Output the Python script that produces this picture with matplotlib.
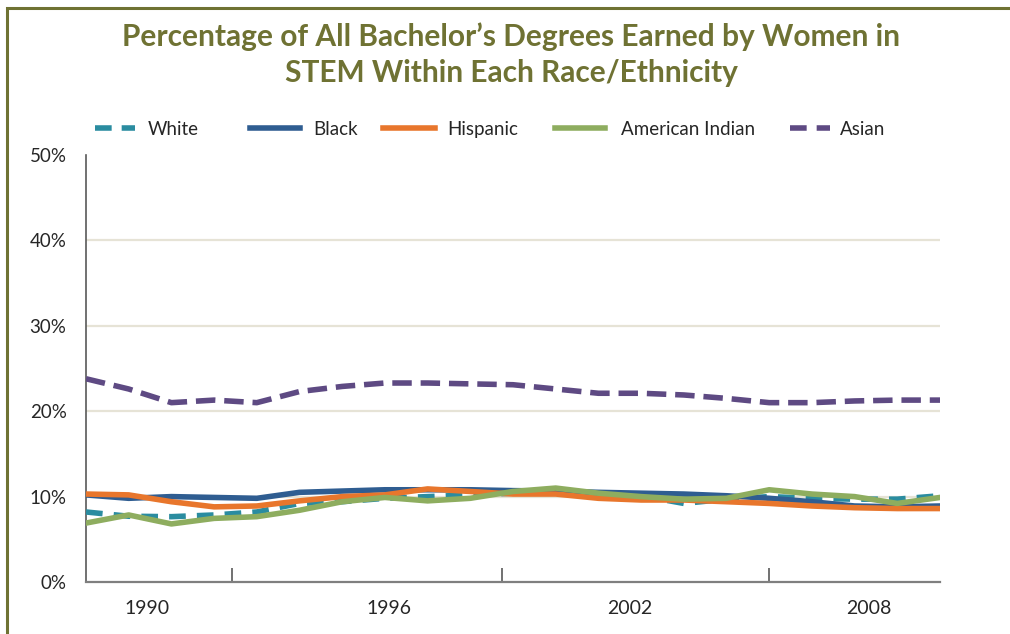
import numpy as np
import matplotlib
matplotlib.use('Agg')
import matplotlib.pyplot as plt
from matplotlib.patches import Rectangle
from matplotlib.lines import Line2D

years = np.arange(1989, 2010)

white = [8.2, 7.7, 7.65, 7.85, 8.2, 9.2, 9.4, 9.8, 10.0, 10.2, 10.4, 10.5, 10.3, 10.1,
         9.2, 9.7, 10.0, 9.8, 9.7, 9.7, 10.1]
black = [10.2, 9.8, 10.0, 9.9, 9.8, 10.5, 10.65, 10.8, 10.8, 10.8, 10.7, 10.65, 10.5, 10.4,
         10.3, 10.1, 9.8, 9.4, 8.9, 8.8, 8.9]
hispanic = [10.3, 10.2, 9.4, 8.8, 8.9, 9.5, 10.0, 10.2, 10.9, 10.6, 10.3, 10.3, 9.8, 9.6,
            9.6, 9.4, 9.2, 8.9, 8.7, 8.6, 8.6]
am_indian = [6.9, 7.85, 6.8, 7.45, 7.65, 8.4, 9.4, 9.9, 9.5, 9.8, 10.6, 11.0, 10.4, 10.0,
             9.7, 9.8, 10.8, 10.3, 10.0, 9.2, 9.9]
asian = [23.8, 22.6, 21.0, 21.3, 21.0, 22.3, 22.9, 23.3, 23.3, 23.2, 23.1, 22.6, 22.1, 22.1,
         21.9, 21.5, 21.0, 21.0, 21.2, 21.3, 21.3]

year_labels = ['1990', '1996', '2002', '2008']
label_pos = [1990.43, 1996.1, 2001.74, 2007.34]
tick_pos = [1992.42, 1998.74, 2004.99]

c_white = '#2A8CA0'
c_black = '#2F5D91'
c_hisp = '#E8762C'
c_amind = '#8EAD5F'
c_asian = '#5E4A83'
olive = '#6F7233'
txt = '#262626'

plt.rcParams['font.family'] = ['Lato', 'DejaVu Sans']

W, H = 1010, 634
fig = plt.figure(figsize=(W / 100, H / 100), dpi=100)
ax = fig.add_axes([86 / W, 1 - 582 / H, (940 - 86) / W, (582 - 155) / H])

lw = 4.0
lines = []
lines += ax.plot(years, white, color=c_white, lw=lw, dashes=(3.0, 2.0), label='White', zorder=3)
lines += ax.plot(years, black, color=c_black, lw=lw, label='Black', zorder=3)
lines += ax.plot(years, hispanic, color=c_hisp, lw=lw, label='Hispanic', zorder=4)
lines += ax.plot(years, am_indian, color=c_amind, lw=lw, label='American Indian', zorder=5)
lines += ax.plot(years, asian, color=c_asian, lw=lw, dashes=(3.5, 1.6), label='Asian', zorder=3)

ax.set_xlim(1989, 2009)
ax.set_ylim(0, 50)
ax.set_yticks([0, 10, 20, 30, 40, 50])
ax.set_yticklabels(['0%', '10%', '20%', '30%', '40%', '50%'])
for y in [10, 20, 30, 40]:
    ax.axhline(y, color='#E6E3D6', lw=1.6, zorder=1)

ax.set_xticks(label_pos)
ax.set_xticklabels(year_labels)
ax.set_xticks(tick_pos, minor=True)
ax.tick_params(axis='x', which='major', length=0, pad=13, labelsize=14, labelcolor=txt)
ax.tick_params(axis='x', which='minor', direction='in', length=10, width=1.2, color='#595959')
ax.tick_params(axis='y', length=0, pad=14, labelsize=13.5, labelcolor=txt)

for s in ['top', 'right']:
    ax.spines[s].set_visible(False)
ax.spines['left'].set_color('#595959')
ax.spines['bottom'].set_color('#7F7F7F')
ax.spines['bottom'].set_linewidth(1.6)
ax.spines['left'].set_linewidth(1.2)

fig.text(0.506, 1 - 37 / H, 'Percentage of All Bachelor\u2019s Degrees Earned by Women in',
         ha='center', va='center', fontsize=21.5, fontweight='bold', color=olive)
fig.text(0.506, 1 - 73 / H, 'STEM Within Each Race/Ethnicity',
         ha='center', va='center', fontsize=21.5, fontweight='bold', color=olive)

# legend entries placed as in the original layout
leg_x = [(95, 135, 148), (250, 300, 313), (383, 435, 447), (555, 605, 621), (790, 830, 840)]
ly = 1 - 128 / H
for ln, (x0, x1, xt) in zip(lines, leg_x):
    h = Line2D([x0 / W, x1 / W], [ly, ly], transform=fig.transFigure, color=ln.get_color(),
               lw=lw, linestyle=ln.get_linestyle())
    if ln.get_label() in ('White', 'Asian'):
        h.set_dashes((3.0, 1.8))
    fig.lines.append(h)
    fig.text(xt / W, ly, ln.get_label(), ha='left', va='center_baseline', fontsize=13.5, color=txt)

# border around the chart
fig.patches.append(Rectangle((0.0069, -0.01), 1.2, 0.997, transform=fig.transFigure,
                             fill=False, edgecolor=olive, lw=2.2))

plt.savefig('out.png', dpi=100)
